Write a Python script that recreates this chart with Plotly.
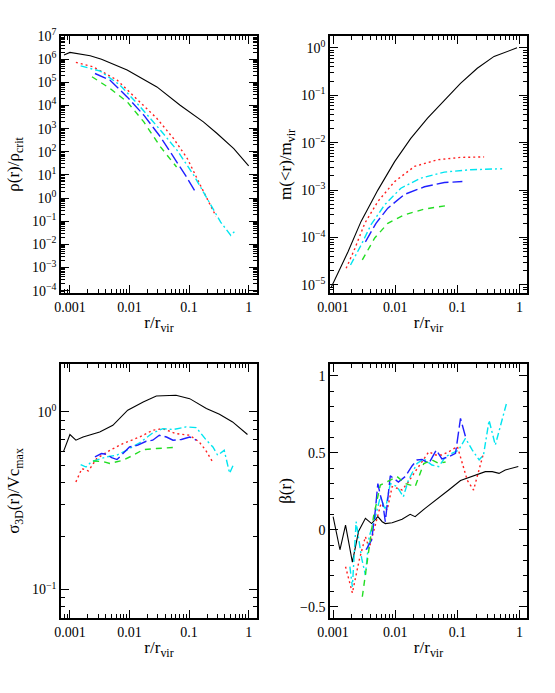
import numpy as np
import plotly.graph_objects as go
from plotly.subplots import make_subplots

# values; radii stored as log10(r/r_vir)

# --- density profile, log10(rho/rho_crit)
rho_black_lr = [-3.10, -3.0, -2.66, -2.47, -2.04, -1.54, -1.15, -0.76, -0.53, -0.25, 0.0]
rho_black_lv = [6.18, 6.29, 6.15, 6.0, 5.53, 4.8, 4.01, 3.29, 2.79, 2.14, 1.39]
rho_red_lr = [-2.90, -2.61, -2.21, -1.88, -1.54, -1.26, -1.03, -0.81, -0.67, -0.55]
rho_red_lv = [5.86, 5.67, 5.10, 4.30, 3.44, 2.57, 1.71, 0.55, -0.17, -0.78]
rho_cyan_lr = [-2.82, -2.49, -2.16, -1.82, -1.48, -1.20, -0.92, -0.70, -0.47, -0.30, -0.22]
rho_cyan_lv = [5.71, 5.48, 4.88, 3.94, 2.93, 2.06, 0.98, -0.03, -1.04, -1.61, -1.40]
rho_blue_lr = [-2.58, -2.33, -2.04, -1.76, -1.48, -1.20, -1.06, -0.90]
rho_blue_lv = [5.38, 5.10, 4.37, 3.58, 2.64, 1.56, 0.98, 0.29]
rho_green_lr = [-2.63, -2.33, -2.04, -1.76, -1.48, -1.21]
rho_green_lv = [5.24, 4.74, 4.16, 3.29, 2.21, 1.34]

# --- enclosed mass, log10(m/m_vir)
m_black_lr = [-3.03, -2.76, -2.55, -2.28, -2.01, -1.75, -1.48, -1.21, -0.95, -0.68, -0.41, -0.04]
m_black_lv = [-5.05, -4.30, -3.66, -3.0, -2.40, -1.91, -1.48, -1.10, -0.75, -0.43, -0.18, 0.0]
m_red_lr = [-2.79, -2.65, -2.49, -2.28, -2.01, -1.69, -1.32, -0.95, -0.57]
m_red_lv = [-4.65, -4.23, -3.70, -3.24, -2.82, -2.50, -2.36, -2.31, -2.30]
m_cyan_lr = [-2.72, -2.55, -2.39, -2.17, -1.91, -1.59, -1.21, -0.79, -0.28]
m_cyan_lv = [-4.58, -4.16, -3.73, -3.31, -2.96, -2.75, -2.62, -2.57, -2.55]
m_blue_lr = [-2.48, -2.31, -2.12, -1.85, -1.53, -1.21, -0.92]
m_blue_lv = [-4.09, -3.70, -3.38, -3.09, -2.93, -2.84, -2.82]
m_green_lr = [-2.53, -2.33, -2.12, -1.85, -1.53, -1.19]
m_green_lv = [-4.47, -4.01, -3.70, -3.52, -3.40, -3.33]

# --- velocity dispersion, log10(sigma_3D/Vc_max)
s_black_lr = [-3.11, -3.0, -2.90, -2.78, -2.50, -2.28, -2.03, -1.77, -1.55, -1.22, -0.99, -0.71, -0.49, -0.27, -0.02]
s_black_lv = [-0.225, -0.127, -0.159, -0.141, -0.113, -0.075, 0.01, 0.056, 0.09, 0.094, 0.075, 0.019, -0.013, -0.056, -0.127]
s_red_lr = [-2.90, -2.80, -2.69, -2.55, -2.33, -2.11, -1.83, -1.61, -1.44, -1.22, -0.99, -0.83, -0.72, -0.59]
s_red_lv = [-0.394, -0.319, -0.332, -0.262, -0.216, -0.178, -0.141, -0.103, -0.094, -0.122, -0.131, -0.169, -0.216, -0.29]
s_cyan_lr = [-2.82, -2.73, -2.64, -2.39, -2.22, -2.05, -1.83, -1.61, -1.44, -1.27, -1.05, -0.88, -0.71, -0.60, -0.52, -0.41, -0.32, -0.26]
s_cyan_lv = [-0.296, -0.31, -0.28, -0.253, -0.244, -0.216, -0.174, -0.118, -0.094, -0.099, -0.084, -0.088, -0.159, -0.197, -0.244, -0.216, -0.345, -0.30]
s_blue_lr = [-2.58, -2.47, -2.39, -2.30, -2.21, -2.11, -2.0, -1.86, -1.72, -1.61, -1.50, -1.38, -1.27, -1.13, -0.99, -0.88]
s_blue_lv = [-0.253, -0.234, -0.238, -0.257, -0.268, -0.234, -0.197, -0.187, -0.165, -0.159, -0.131, -0.141, -0.159, -0.155, -0.141, -0.159]
s_green_lr = [-2.61, -2.44, -2.33, -2.11, -1.94, -1.77, -1.55, -1.27]
s_green_lv = [-0.276, -0.28, -0.29, -0.272, -0.244, -0.212, -0.206, -0.20]

# --- anisotropy beta(r)
b_black_lr = [-3.0, -2.89, -2.80, -2.69, -2.59, -2.48, -2.38, -2.28, -2.21, -2.16, -2.05, -1.89, -1.76, -1.68, -1.52, -1.35, -1.14, -0.95, -0.82, -0.66, -0.55, -0.44, -0.33, -0.23, -0.02]
b_black_v = [0.085, -0.13, 0.03, -0.21, -0.01, 0.074, 0.04, 0.085, 0.052, 0.04, 0.045, 0.068, 0.10, 0.085, 0.139, 0.19, 0.258, 0.32, 0.34, 0.36, 0.377, 0.377, 0.366, 0.388, 0.41]
b_red_lr = [-2.80, -2.69, -2.58, -2.48, -2.42, -2.32, -2.23, -2.13, -2.05, -1.89, -1.79, -1.68, -1.54, -1.46, -1.35, -1.25, -1.14, -1.0, -0.92, -0.84, -0.74, -0.66, -0.58]
b_red_v = [-0.24, -0.41, -0.197, -0.045, -0.12, 0.04, 0.17, 0.128, 0.28, 0.258, 0.31, 0.377, 0.46, 0.506, 0.485, 0.485, 0.506, 0.54, 0.43, 0.32, 0.258, 0.377, 0.496]
b_cyan_lr = [-2.73, -2.69, -2.63, -2.54, -2.48, -2.42, -2.32, -2.24, -2.16, -2.08, -1.97, -1.87, -1.79, -1.65, -1.54, -1.41, -1.30, -1.19, -1.09, -0.98, -0.87, -0.76, -0.65, -0.58, -0.49, -0.39, -0.21]
b_cyan_v = [-0.24, -0.37, 0.052, -0.186, -0.294, -0.045, 0.085, 0.214, 0.128, 0.30, 0.28, 0.214, 0.32, 0.43, 0.46, 0.42, 0.41, 0.474, 0.496, 0.517, 0.594, 0.517, 0.453, 0.485, 0.71, 0.55, 0.82]
b_blue_lr = [-2.47, -2.38, -2.32, -2.28, -2.24, -2.20, -2.16, -2.08, -1.95, -1.84, -1.73, -1.65, -1.57, -1.46, -1.34, -1.25, -1.14, -1.03, -0.95, -0.87]
b_blue_v = [-0.13, -0.067, 0.128, 0.30, 0.225, 0.17, 0.052, 0.35, 0.31, 0.345, 0.414, 0.453, 0.457, 0.43, 0.517, 0.46, 0.474, 0.496, 0.723, 0.604]
b_green_lr = [-2.53, -2.43, -2.35, -2.24, -2.08, -1.97, -1.84, -1.68, -1.54, -1.41, -1.30, -1.19]
b_green_v = [-0.435, -0.153, 0.085, 0.29, 0.32, 0.345, 0.30, 0.28, 0.43, 0.453, 0.43, 0.44]

STYLES = {
    "black": dict(color="black", width=1.1, dash="solid"),
    "red": dict(color="#ff2020", width=1.4, dash="2px,3px"),
    "cyan": dict(color="#00e5f0", width=1.4, dash="7px,3px,2px,3px"),
    "blue": dict(color="#1f1fff", width=1.4, dash="12px,4px"),
    "green": dict(color="#22dd22", width=1.4, dash="6px,5px"),
}

FONT = "Liberation Serif"

fig = make_subplots(rows=2, cols=2)


def add(lr, v, style, row, col, log_y=True):
    x = 10 ** np.array(lr)
    y = 10 ** np.array(v) if log_y else v
    fig.add_trace(
        go.Scatter(x=x, y=y, mode="lines", line=STYLES[style], showlegend=False, hoverinfo="skip"),
        row=row, col=col,
    )


for name, lr, lv in [("black", rho_black_lr, rho_black_lv), ("red", rho_red_lr, rho_red_lv),
                     ("cyan", rho_cyan_lr, rho_cyan_lv), ("blue", rho_blue_lr, rho_blue_lv),
                     ("green", rho_green_lr, rho_green_lv)]:
    add(lr, lv, name, 1, 1)
for name, lr, lv in [("black", m_black_lr, m_black_lv), ("red", m_red_lr, m_red_lv),
                     ("cyan", m_cyan_lr, m_cyan_lv), ("blue", m_blue_lr, m_blue_lv),
                     ("green", m_green_lr, m_green_lv)]:
    add(lr, lv, name, 1, 2)
for name, lr, lv in [("black", s_black_lr, s_black_lv), ("red", s_red_lr, s_red_lv),
                     ("cyan", s_cyan_lr, s_cyan_lv), ("blue", s_blue_lr, s_blue_lv),
                     ("green", s_green_lr, s_green_lv)]:
    add(lr, lv, name, 2, 1)
for name, lr, v in [("black", b_black_lr, b_black_v), ("red", b_red_lr, b_red_v),
                    ("cyan", b_cyan_lr, b_cyan_v), ("blue", b_blue_lr, b_blue_v),
                    ("green", b_green_lr, b_green_v)]:
    add(lr, v, name, 2, 2, log_y=False)


def minor_log(lo, hi):
    # 2..9 sub-ticks for each decade
    vals = []
    for e in range(lo, hi + 1):
        vals += [k * 10.0 ** e for k in range(2, 10)]
    return vals


def sup(e):
    return "10<sup>%s</sup>" % (str(e).replace("-", "\u2212"))


axis_common = dict(
    showline=True, linecolor="black", linewidth=1.5, mirror="allticks",
    ticks="inside", ticklen=8, tickwidth=1, tickcolor="black",
    showgrid=False, zeroline=False, automargin=False,
    tickfont=dict(family=FONT, size=14, color="black"),
    title_font=dict(family=FONT, size=17, color="black"),
)

x_vals = [0.001, 0.01, 0.1, 1]
x_text = ["0.001", "0.01", "0.1", "1"]
xminor = dict(tickvals=minor_log(-4, 0), ticks="inside", ticklen=4, tickcolor="black", showgrid=False)

dom_x = {1: [61 / 555, 257 / 555], 2: [330 / 555, 527 / 555]}
dom_y = {1: [1 - 293 / 693, 1 - 36 / 693], 2: [1 - 618 / 693, 1 - 364 / 693]}
x_range = {1: [-3.15, 0.14], 2: [-3.05, 0.12]}

for row in (1, 2):
    for col in (1, 2):
        fig.update_xaxes(
            type="log", range=x_range[col], domain=dom_x[col],
            tickvals=x_vals, ticktext=x_text, minor=xminor,
            title_text="r/r<sub>vir</sub>", title_standoff=3,
            row=row, col=col, **axis_common,
        )
        fig.update_yaxes(domain=dom_y[row], row=row, col=col, **axis_common)

yminor_log = lambda lo, hi: dict(tickvals=minor_log(lo, hi), ticks="inside", ticklen=4,
                                 tickcolor="black", showgrid=False)

fig.update_yaxes(type="log", range=[-4.1, 7.0],
                 tickvals=[10.0 ** e for e in range(-4, 8)], ticktext=[sup(e) for e in range(-4, 8)],
                 minor=yminor_log(-5, 7), title_text="\u03c1(r)/\u03c1<sub>crit</sub>",
                 title_standoff=8, row=1, col=1)
fig.update_yaxes(type="log", range=[-5.17, 0.25],
                 tickvals=[10.0 ** e for e in range(-5, 1)], ticktext=[sup(e) for e in range(-5, 1)],
                 minor=yminor_log(-6, 0), title_text="m(<r)/m<sub>vir</sub>",
                 title_standoff=5, row=1, col=2)
fig.update_yaxes(type="log", range=[-1.16, 0.27],
                 tickvals=[0.1, 1.0], ticktext=[sup(-1), sup(0)],
                 minor=yminor_log(-2, 0), title_text="\u03c3<sub>3D</sub>(r)/Vc<sub>max</sub>",
                 title_standoff=8, row=2, col=1)
fig.update_yaxes(type="linear", range=[-0.573, 1.076],
                 tickvals=[-0.5, 0, 0.5, 1], ticktext=["\u22120.5", "0", "0.5", "1"],
                 minor=dict(dtick=0.1, tick0=0, ticks="inside", ticklen=4, tickcolor="black", showgrid=False),
                 title_text="\u03b2(r)", title_standoff=4, row=2, col=2)

fig.update_layout(
    width=555, height=693,
    margin=dict(l=0, r=0, t=0, b=0),
    paper_bgcolor="white", plot_bgcolor="white",
    font=dict(family=FONT, color="black"),
)

# drop the browser's default page margin so the figure sits at the window origin
fig.write_html("out.html", config={"displayModeBar": False},
               post_script="document.body.style.margin='0';")
